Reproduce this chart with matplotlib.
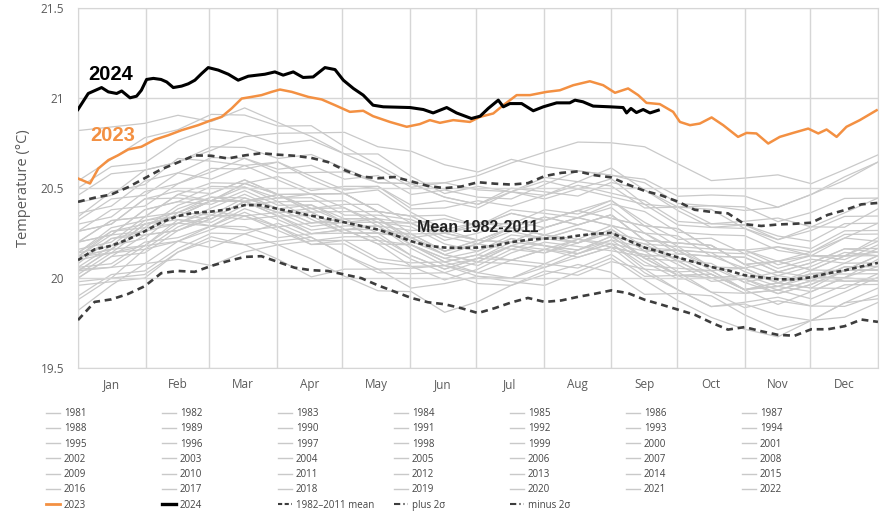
import numpy as np
import matplotlib
matplotlib.use("Agg")
import matplotlib.pyplot as plt
from matplotlib.lines import Line2D

plt.rcParams["font.family"] = ["Open Sans", "DejaVu Sans"]

MONTHS = ["Jan", "Feb", "Mar", "Apr", "May", "Jun",
          "Jul", "Aug", "Sep", "Oct", "Nov", "Dec"]
MONTH_STARTS = [0, 31, 60, 91, 121, 152, 182, 213, 244, 274, 305, 335, 366]

# climatology, one value every 7.6 days of the year
CLIM_DAYS = np.linspace(0, 366, 49)
MEAN_8211 = [20.100, 20.160, 20.180, 20.215, 20.260, 20.310, 20.345, 20.364,
             20.370, 20.382, 20.406, 20.405, 20.385, 20.366, 20.347, 20.330,
             20.310, 20.290, 20.270, 20.240, 20.205, 20.180, 20.170, 20.168,
             20.170, 20.180, 20.200, 20.213, 20.220, 20.222, 20.236, 20.246,
             20.252, 20.210, 20.170, 20.144, 20.115, 20.089, 20.062, 20.043,
             20.016, 20.004, 19.994, 19.993, 20.005, 20.027, 20.043, 20.065,
             20.085]
PLUS_2SIGMA = [20.424, 20.447, 20.465, 20.505, 20.555, 20.605, 20.643, 20.682,
               20.680, 20.665, 20.682, 20.694, 20.686, 20.680, 20.668, 20.645,
               20.600, 20.565, 20.555, 20.562, 20.538, 20.512, 20.500, 20.509,
               20.533, 20.525, 20.520, 20.528, 20.567, 20.585, 20.593, 20.572,
               20.560, 20.520, 20.485, 20.460, 20.425, 20.380, 20.368, 20.360,
               20.300, 20.290, 20.298, 20.302, 20.308, 20.352, 20.378, 20.410,
               20.418]
MINUS_2SIGMA = [19.767, 19.868, 19.882, 19.912, 19.955, 20.028, 20.040, 20.035,
                20.068, 20.095, 20.118, 20.122, 20.090, 20.058, 20.044, 20.040,
                20.020, 20.000, 19.960, 19.925, 19.890, 19.866, 19.855, 19.833,
                19.806, 19.833, 19.865, 19.890, 19.868, 19.876, 19.896, 19.913,
                19.932, 19.917, 19.880, 19.853, 19.825, 19.797, 19.753, 19.714,
                19.728, 19.705, 19.685, 19.680, 19.716, 19.716, 19.733, 19.770,
                19.757]

DAYS_2023 = [0, 5.5, 9.3, 13.9, 18.4, 23, 29, 35.2, 41.3, 47.4, 55, 61.1,
             65.7, 70.3, 74.9, 79.4, 84, 88.6, 92.4, 97.8, 105.4, 111.5, 117.6,
             124.4, 130.5, 135, 142.7, 150.4, 156.4, 161, 165.6, 171.7, 179.3,
             183.9, 190, 194.6, 200.7, 206.8, 214.4, 220.5, 226.6, 234.2, 240.3,
             245.7, 251.7, 256.3, 260.1, 266.2, 272.3, 275.4, 280, 284.5, 289.9,
             295.2, 302, 305.9, 310.4, 315.8, 321.1, 327.2, 334.1, 338.7, 342.5,
             347.1, 351.6, 357.7, 365.4]
TEMP_2023 = [20.554, 20.526, 20.609, 20.656, 20.683, 20.715, 20.730, 20.770,
             20.794, 20.822, 20.850, 20.878, 20.896, 20.943, 20.998, 21.007,
             21.017, 21.035, 21.048, 21.035, 21.007, 20.993, 20.961, 20.924,
             20.930, 20.900, 20.868, 20.841, 20.856, 20.878, 20.863, 20.878,
             20.868, 20.896, 20.915, 20.961, 21.017, 21.017, 21.035, 21.044,
             21.072, 21.094, 21.072, 21.030, 21.054, 21.017, 20.974, 20.967,
             20.924, 20.868, 20.850, 20.859, 20.893, 20.850, 20.785, 20.807,
             20.804, 20.748, 20.785, 20.807, 20.831, 20.804, 20.826, 20.785,
             20.841, 20.878, 20.933]

DAYS_2024 = [0, 4.7, 10.8, 13.9, 17.7, 20, 23.8, 26.8, 29, 31.4, 34.5, 38,
             40.6, 43.6, 47.4, 50.5, 53.5, 56.6, 59.6, 64.2, 68.8, 73.3, 77.9,
             85.5, 90.1, 93.9, 98.5, 103, 107.6, 113, 117.6, 121.4, 126, 130.5,
             135, 139.7, 151.9, 158, 162.5, 168.7, 173.2, 180, 184, 187.7,
             192.3, 194.6, 197.6, 203, 208.3, 212.9, 219, 225, 227.4, 231,
             235.7, 243.4, 249.4, 251, 253, 255.5, 258.6, 261.7, 265.5]
TEMP_2024 = [20.937, 21.026, 21.059, 21.035, 21.026, 21.040, 21.002, 21.011,
             21.044, 21.104, 21.110, 21.104, 21.090, 21.059, 21.067, 21.080,
             21.100, 21.137, 21.170, 21.156, 21.133, 21.100, 21.122, 21.133,
             21.146, 21.128, 21.146, 21.115, 21.118, 21.170, 21.159, 21.100,
             21.054, 21.017, 20.961, 20.952, 20.948, 20.937, 20.918, 20.948,
             20.918, 20.887, 20.900, 20.943, 20.989, 20.952, 20.970, 20.970,
             20.930, 20.952, 20.974, 20.974, 20.989, 20.980, 20.956, 20.952,
             20.948, 20.918, 20.943, 20.920, 20.937, 20.918, 20.933]

# earlier years, as departures from the 1982-2011 mean on every second
# climatology day (estimated from the grey bundle)
ANOMALIES = {
    1981: [-0.22, -0.18, -0.10, -0.14, -0.20, -0.16, -0.08, -0.12, -0.18, -0.22, -0.15, -0.10, -0.14, -0.20, -0.16, -0.12, -0.08, -0.14, -0.18, -0.22, -0.15, -0.10, -0.16, -0.20, -0.18],
    1982: [-0.05, -0.12, -0.18, -0.14, -0.08, -0.12, -0.16, -0.10, -0.04, -0.08, -0.14, -0.18, -0.12, -0.06, -0.02, -0.06, -0.10, -0.05, 0.02, 0.06, 0.04, 0.10, 0.12, 0.08, 0.14],
    1983: [0.16, 0.12, 0.18, 0.10, 0.06, 0.12, 0.08, 0.02, -0.04, 0.02, -0.02, -0.08, -0.04, 0.02, -0.04, -0.10, -0.06, -0.02, 0.04, -0.02, -0.08, -0.04, 0.02, -0.06, -0.10],
    1984: [-0.12, -0.18, -0.24, -0.20, -0.14, -0.22, -0.28, -0.34, -0.26, -0.22, -0.26, -0.20, -0.16, -0.22, -0.26, -0.20, -0.14, -0.18, -0.24, -0.28, -0.30, -0.32, -0.24, -0.26, -0.22],
    1985: [-0.28, -0.22, -0.18, -0.24, -0.30, -0.26, -0.20, -0.24, -0.30, -0.34, -0.28, -0.36, -0.30, -0.24, -0.20, -0.16, -0.22, -0.26, -0.20, -0.16, -0.22, -0.28, -0.24, -0.18, -0.20],
    1986: [-0.20, -0.16, -0.22, -0.18, -0.12, -0.16, -0.20, -0.14, -0.10, -0.16, -0.12, -0.08, -0.14, -0.10, -0.06, -0.12, -0.08, -0.04, -0.10, -0.06, -0.02, -0.08, -0.04, 0.00, -0.04],
    1987: [0.04, 0.10, 0.06, 0.00, 0.06, 0.12, 0.08, 0.02, 0.06, 0.10, 0.04, -0.02, 0.04, 0.08, 0.02, -0.04, 0.02, -0.02, -0.08, -0.02, 0.04, -0.02, -0.06, 0.00, -0.04],
    1988: [-0.02, 0.04, -0.02, -0.08, -0.04, 0.02, -0.04, -0.10, -0.06, -0.02, -0.08, -0.12, -0.06, -0.02, -0.08, -0.04, 0.00, -0.06, -0.10, -0.04, -0.08, -0.14, -0.08, -0.04, -0.10],
    1989: [-0.14, -0.20, -0.26, -0.20, -0.16, -0.22, -0.18, -0.12, -0.18, -0.24, -0.18, -0.14, -0.20, -0.24, -0.18, -0.22, -0.16, -0.12, -0.18, -0.22, -0.16, -0.20, -0.24, -0.18, -0.14],
    1990: [-0.10, -0.06, -0.02, -0.08, -0.04, 0.02, -0.04, -0.08, -0.02, 0.02, -0.04, -0.10, -0.06, 0.00, -0.04, -0.08, -0.02, -0.06, -0.10, -0.04, -0.08, -0.02, -0.06, -0.10, -0.06],
    1991: [-0.06, -0.02, 0.04, -0.02, -0.06, 0.00, 0.04, -0.02, -0.06, -0.02, 0.02, -0.04, -0.08, -0.02, 0.02, -0.04, 0.00, 0.04, -0.02, -0.06, -0.02, 0.04, 0.00, -0.04, 0.02],
    1992: [0.02, -0.04, -0.08, -0.02, -0.08, -0.14, -0.10, -0.16, -0.12, -0.18, -0.14, -0.10, -0.16, -0.20, -0.14, -0.18, -0.12, -0.16, -0.10, -0.14, -0.18, -0.12, -0.16, -0.12, -0.08],
    1993: [-0.06, -0.12, -0.08, -0.14, -0.10, -0.06, -0.12, -0.16, -0.10, -0.06, -0.10, -0.14, -0.08, -0.12, -0.16, -0.10, -0.06, -0.12, -0.08, -0.14, -0.10, -0.06, -0.12, -0.08, -0.12],
    1994: [-0.10, -0.06, -0.12, -0.08, -0.02, -0.06, -0.10, -0.04, 0.00, -0.06, -0.02, -0.08, -0.04, -0.10, -0.06, -0.02, -0.08, -0.04, 0.00, -0.04, -0.08, -0.02, 0.02, -0.02, -0.06],
    1995: [0.02, -0.02, 0.04, 0.00, -0.04, 0.02, -0.02, -0.06, 0.00, 0.04, -0.02, -0.06, -0.02, 0.02, -0.04, -0.08, -0.02, -0.06, -0.02, 0.02, -0.04, -0.08, -0.04, 0.00, -0.04],
    1996: [-0.04, -0.10, -0.06, -0.12, -0.08, -0.04, -0.10, -0.14, -0.08, -0.04, -0.08, -0.12, -0.06, -0.10, -0.14, -0.08, -0.04, -0.08, -0.12, -0.06, -0.10, -0.06, -0.02, -0.06, -0.10],
    1997: [-0.04, 0.00, -0.04, 0.02, 0.06, 0.02, 0.08, 0.04, 0.10, 0.14, 0.10, 0.16, 0.12, 0.18, 0.14, 0.10, 0.16, 0.20, 0.14, 0.18, 0.22, 0.16, 0.12, 0.18, 0.22],
    1998: [0.24, 0.30, 0.26, 0.32, 0.28, 0.22, 0.26, 0.20, 0.16, 0.22, 0.16, 0.10, 0.14, 0.08, 0.12, 0.06, 0.10, 0.04, 0.08, 0.12, 0.06, 0.02, 0.06, 0.10, 0.04],
    1999: [0.00, -0.04, 0.02, -0.04, -0.08, -0.02, -0.06, -0.10, -0.04, -0.08, -0.02, -0.06, -0.10, -0.04, -0.08, -0.02, -0.06, -0.10, -0.06, -0.02, -0.08, -0.04, -0.08, -0.04, -0.02],
    2000: [-0.08, -0.04, -0.10, -0.06, -0.02, -0.08, -0.04, 0.00, -0.06, -0.02, 0.02, -0.04, -0.08, -0.02, -0.06, -0.10, -0.04, 0.00, -0.04, -0.08, -0.02, -0.06, -0.02, 0.02, -0.02],
    2001: [0.00, 0.04, 0.00, -0.04, 0.02, 0.06, 0.00, -0.04, 0.02, 0.06, 0.02, -0.02, 0.04, 0.08, 0.02, -0.02, 0.04, 0.00, 0.04, 0.08, 0.02, -0.02, 0.04, 0.00, 0.04],
    2002: [0.02, 0.08, 0.04, 0.00, 0.06, 0.02, -0.02, 0.04, 0.08, 0.02, 0.06, 0.10, 0.04, 0.08, 0.02, 0.06, 0.10, 0.04, 0.08, 0.12, 0.06, 0.10, 0.04, 0.08, 0.04],
    2003: [0.10, 0.14, 0.08, 0.12, 0.06, 0.10, 0.04, 0.08, 0.12, 0.06, 0.10, 0.04, 0.08, 0.12, 0.06, 0.10, 0.14, 0.08, 0.04, 0.08, 0.12, 0.06, 0.10, 0.04, 0.08],
    2004: [0.04, 0.00, 0.06, 0.02, 0.08, 0.04, 0.00, 0.06, 0.02, -0.02, 0.04, 0.08, 0.04, 0.00, 0.06, 0.10, 0.04, 0.08, 0.02, 0.06, 0.10, 0.04, 0.08, 0.12, 0.06],
    2005: [0.10, 0.06, 0.12, 0.08, 0.14, 0.10, 0.06, 0.12, 0.08, 0.04, 0.10, 0.06, 0.02, 0.08, 0.12, 0.06, 0.10, 0.04, 0.08, 0.12, 0.06, 0.10, 0.04, 0.08, 0.06],
    2006: [0.02, -0.02, 0.04, 0.00, 0.06, 0.02, 0.08, 0.04, 0.00, 0.06, 0.02, 0.08, 0.04, 0.00, 0.06, 0.10, 0.04, 0.08, 0.12, 0.06, 0.10, 0.04, 0.08, 0.12, 0.08],
    2007: [0.10, 0.06, 0.12, 0.08, 0.04, 0.08, 0.02, 0.06, 0.00, 0.04, 0.08, 0.02, -0.02, 0.04, 0.00, -0.04, 0.02, -0.02, 0.04, 0.00, -0.04, 0.02, -0.02, 0.02, -0.02],
    2008: [-0.06, -0.02, -0.08, -0.04, 0.00, -0.06, -0.02, 0.02, -0.04, 0.00, 0.04, -0.02, 0.02, -0.04, 0.00, 0.04, -0.02, 0.02, -0.02, -0.06, 0.00, -0.04, 0.00, 0.04, 0.00],
    2009: [0.02, 0.06, 0.00, 0.04, 0.08, 0.02, 0.06, 0.10, 0.04, 0.08, 0.12, 0.08, 0.14, 0.10, 0.16, 0.12, 0.18, 0.14, 0.10, 0.16, 0.12, 0.18, 0.14, 0.20, 0.16],
    2010: [0.22, 0.26, 0.20, 0.24, 0.18, 0.22, 0.16, 0.12, 0.16, 0.10, 0.14, 0.08, 0.12, 0.06, 0.10, 0.14, 0.08, 0.12, 0.06, 0.10, 0.14, 0.08, 0.12, 0.06, 0.10],
    2011: [0.06, 0.02, 0.08, 0.02, -0.02, 0.04, 0.00, -0.04, 0.02, 0.06, 0.00, -0.04, 0.02, 0.06, 0.00, 0.04, -0.02, 0.02, 0.06, 0.00, 0.04, -0.02, 0.02, 0.00, 0.04],
    2012: [0.04, 0.08, 0.02, 0.06, 0.10, 0.14, 0.08, 0.12, 0.16, 0.10, 0.14, 0.18, 0.12, 0.16, 0.10, 0.14, 0.18, 0.12, 0.16, 0.10, 0.14, 0.10, 0.14, 0.18, 0.12],
    2013: [0.16, 0.12, 0.18, 0.14, 0.10, 0.14, 0.08, 0.12, 0.16, 0.10, 0.14, 0.08, 0.12, 0.16, 0.10, 0.14, 0.08, 0.12, 0.16, 0.10, 0.14, 0.18, 0.12, 0.08, 0.12],
    2014: [0.10, 0.14, 0.08, 0.12, 0.16, 0.12, 0.18, 0.14, 0.20, 0.24, 0.18, 0.22, 0.26, 0.20, 0.24, 0.28, 0.22, 0.26, 0.20, 0.24, 0.28, 0.22, 0.26, 0.30, 0.26],
    2015: [0.26, 0.22, 0.28, 0.24, 0.30, 0.26, 0.22, 0.28, 0.24, 0.30, 0.26, 0.32, 0.28, 0.24, 0.30, 0.36, 0.32, 0.38, 0.34, 0.40, 0.44, 0.40, 0.46, 0.52, 0.56],
    2016: [0.72, 0.66, 0.60, 0.56, 0.50, 0.54, 0.48, 0.44, 0.38, 0.42, 0.36, 0.30, 0.34, 0.28, 0.32, 0.26, 0.30, 0.24, 0.28, 0.32, 0.26, 0.22, 0.28, 0.24, 0.30],
    2017: [0.32, 0.28, 0.34, 0.30, 0.36, 0.32, 0.28, 0.34, 0.30, 0.26, 0.32, 0.28, 0.24, 0.30, 0.26, 0.22, 0.28, 0.32, 0.26, 0.22, 0.28, 0.24, 0.20, 0.26, 0.22],
    2018: [0.20, 0.16, 0.22, 0.18, 0.24, 0.20, 0.26, 0.22, 0.18, 0.24, 0.20, 0.26, 0.22, 0.28, 0.24, 0.30, 0.26, 0.22, 0.28, 0.24, 0.30, 0.34, 0.28, 0.32, 0.36],
    2019: [0.40, 0.44, 0.38, 0.42, 0.46, 0.40, 0.36, 0.42, 0.38, 0.34, 0.30, 0.36, 0.32, 0.28, 0.34, 0.30, 0.36, 0.32, 0.28, 0.34, 0.36, 0.40, 0.46, 0.50, 0.56],
    2020: [0.44, 0.48, 0.52, 0.48, 0.54, 0.50, 0.46, 0.50, 0.42, 0.36, 0.32, 0.28, 0.24, 0.28, 0.22, 0.26, 0.20, 0.24, 0.18, 0.22, 0.26, 0.20, 0.16, 0.22, 0.18],
    2021: [0.16, 0.20, 0.14, 0.18, 0.22, 0.26, 0.20, 0.24, 0.28, 0.26, 0.32, 0.36, 0.40, 0.44, 0.48, 0.52, 0.50, 0.56, 0.52, 0.48, 0.54, 0.58, 0.52, 0.56, 0.60],
    2022: [0.36, 0.40, 0.34, 0.30, 0.34, 0.38, 0.42, 0.46, 0.50, 0.46, 0.50, 0.46, 0.42, 0.46, 0.40, 0.36, 0.32, 0.36, 0.30, 0.34, 0.38, 0.32, 0.36, 0.40, 0.36],
}

GREY = "#c9c9c9"
ORANGE = "#f39042"
DASH_COLOR = "#3d3d3d"
TEXT_COLOR = "#5a5a5a"

fig = plt.figure(figsize=(8.82, 5.12), dpi=100)
ax = fig.add_axes([0.0884, 0.281, 0.907, 0.703])

grey_days = CLIM_DAYS[::2]
grey_base = np.array(MEAN_8211[::2])
for year, anomaly in ANOMALIES.items():
    ax.plot(grey_days, grey_base + np.array(anomaly), color=GREY,
            linewidth=0.9, zorder=1)

ax.plot(CLIM_DAYS, PLUS_2SIGMA, color=DASH_COLOR, linewidth=1.9,
        dashes=(2.6, 1.8), zorder=3)
ax.plot(CLIM_DAYS, MINUS_2SIGMA, color=DASH_COLOR, linewidth=1.9,
        dashes=(2.6, 1.8), zorder=3)
ax.plot(CLIM_DAYS, MEAN_8211, color=DASH_COLOR, linewidth=1.9,
        dashes=(1.8, 1.2), zorder=3)
ax.plot(DAYS_2023, TEMP_2023, color=ORANGE, linewidth=1.8, zorder=4)
ax.plot(DAYS_2024, TEMP_2024, color="black", linewidth=2.2, zorder=5)

bold_family = ["Liberation Sans", "DejaVu Sans"]
ax.text(4.5, 21.13, "2024", fontsize=14.5, fontweight="bold", color="black",
        family=bold_family, va="center", ha="left")
ax.text(5.5, 20.795, "2023", fontsize=14.5, fontweight="bold", color=ORANGE,
        family=bold_family, va="center", ha="left")
ax.text(155, 20.28, "Mean 1982-2011", fontsize=11.5, fontweight="bold",
        color="#222222", family=bold_family,
        va="center", ha="left", zorder=6)

ax.set_xlim(0, 366)
ax.set_ylim(19.5, 21.5)
ax.set_yticks([19.5, 20, 20.5, 21, 21.5])
ax.set_yticklabels(["19.5", "20", "20.5", "21", "21.5"])
mids = [(a + b) / 2 for a, b in zip(MONTH_STARTS[:-1], MONTH_STARTS[1:])]
ax.set_xticks(mids)
ax.set_xticklabels(MONTHS)
ax.set_xticks(MONTH_STARTS, minor=True)
ax.tick_params(which="both", length=0)
ax.tick_params(axis="both", colors=TEXT_COLOR, labelsize=8.5)
ax.tick_params(axis="y", pad=10)
ax.tick_params(axis="x", pad=7)
ax.grid(which="minor", axis="x", color="#d6d6d6", linewidth=1.0, zorder=0)
ax.grid(which="major", axis="y", color="#d6d6d6", linewidth=1.0, zorder=0)
ax.grid(which="major", axis="x", visible=False)
for spine in ax.spines.values():
    spine.set_color("#d6d6d6")
ax.set_ylabel("Temperature (°C)", fontsize=10.5, color=TEXT_COLOR, labelpad=7)

# legend laid out row by row, seven entries per row
handles = [Line2D([], [], color=GREY, linewidth=1.0) for _ in ANOMALIES]
labels = [str(y) for y in ANOMALIES]
handles += [Line2D([], [], color=ORANGE, linewidth=2.0),
            Line2D([], [], color="black", linewidth=2.4),
            Line2D([], [], color=DASH_COLOR, linewidth=1.5, dashes=(2, 1.2)),
            Line2D([], [], color=DASH_COLOR, linewidth=1.5,
                   dashes=(3, 1.5, 0.6, 1.5)),
            Line2D([], [], color=DASH_COLOR, linewidth=1.5,
                   dashes=(3, 1.5, 0.6, 1.5))]
labels += ["2023", "2024", "1982\u20132011 mean", "plus 2\u03c3", "minus 2\u03c3"]

for col in range(7):
    fig.legend(handles[col::7], labels[col::7], loc="upper left",
               bbox_to_anchor=((46 + 116 * col) / 882, 1 - 408 / 512),
               frameon=False, fontsize=7, handlelength=1.4,
               handletextpad=0.45, labelspacing=0.44, borderpad=0,
               borderaxespad=0, labelcolor="#444444")

fig.savefig("out.png", dpi=100, facecolor="white")
